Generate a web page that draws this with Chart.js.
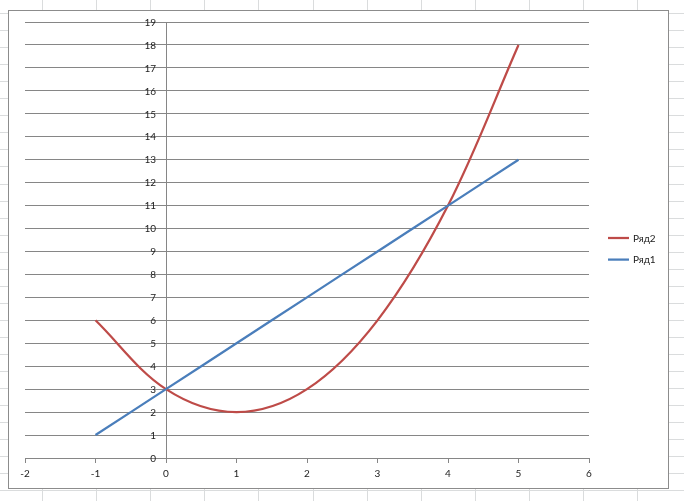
<!DOCTYPE html>
<html>
<head>
<meta charset="utf-8">
<script src="https://cdn.jsdelivr.net/npm/chart.js@4"></script>
<style>
  html, body { margin: 0; padding: 0; background: #fff; }
  canvas { display: block; }
</style>
</head>
<body>
<canvas id="chart" width="684" height="501"></canvas>
<script>
// values
const xValues = [-1, 0, 1, 2, 3, 4, 5];
const ryad1 = [1, 3, 5, 7, 9, 11, 13];
const ryad2 = [6, 3, 2, 3, 6, 11, 18];
const seriesNames = ['Ряд1', 'Ряд2'];
const xRange = [-2, 6];
const yRange = [0, 19];

const colors = { ryad1: '#4a7ebb', ryad2: '#be4b48', grid: '#868686', cells: '#dadcdd', text: '#222' };
const FONT = 'Lato, "Liberation Sans", sans-serif';

const toPoints = ys => xValues.map((x, i) => ({ x, y: ys[i] }));

// spreadsheet cells behind the chart object + white chart frame
const sheetBackground = {
  id: 'sheetBackground',
  beforeDraw(chart) {
    const ctx = chart.ctx;
    ctx.save();
    ctx.fillStyle = '#fff';
    ctx.fillRect(0, 0, chart.width, chart.height);
    ctx.strokeStyle = colors.cells;
    ctx.lineWidth = 1;
    ctx.beginPath();
    for (let x = 42 - 54.1; x < chart.width; x += 54.1) {
      const px = Math.round(x) + 0.5;
      ctx.moveTo(px, 0); ctx.lineTo(px, chart.height);
    }
    for (let y = 13.3 - 17.02; y < chart.height; y += 17.02) {
      const py = Math.round(y) + 0.5;
      ctx.moveTo(0, py); ctx.lineTo(chart.width, py);
    }
    ctx.stroke();
    ctx.fillStyle = '#fff';
    ctx.fillRect(8.5, 10.5, 660, 478);
    ctx.strokeStyle = '#8c8c8c';
    ctx.strokeRect(8.5, 10.5, 660, 478);
    ctx.restore();
  }
};

// y labels sit left of the axis at x=0; Chart.js ignores padding there, so draw them here
const yAxisLabels = {
  id: 'yAxisLabels',
  afterDraw(chart) {
    const { ctx, scales: { x, y } } = chart;
    const axisX = x.getPixelForValue(0);
    ctx.save();
    ctx.font = '10px ' + FONT;
    ctx.fillStyle = colors.text;
    ctx.textAlign = 'right';
    ctx.textBaseline = 'middle';
    y.ticks.forEach(t => {
      ctx.fillText(String(t.value), axisX - 10, y.getPixelForValue(t.value) + 0.5);
    });
    ctx.restore();
  }
};

// Excel style legend on the right, last series first
const sideLegend = {
  id: 'sideLegend',
  afterDraw(chart) {
    const ctx = chart.ctx;
    const sets = chart.data.datasets.slice().reverse();
    ctx.save();
    ctx.font = '10px ' + FONT;
    ctx.textBaseline = 'middle';
    sets.forEach((ds, i) => {
      const y = 238 + i * 21.6;
      ctx.strokeStyle = ds.borderColor;
      ctx.lineWidth = 2.25;
      ctx.beginPath();
      ctx.moveTo(608, y); ctx.lineTo(629, y);
      ctx.stroke();
      ctx.fillStyle = colors.text;
      ctx.fillText(ds.label, 633, y + 0.5);
    });
    ctx.restore();
  }
};

new Chart(document.getElementById('chart'), {
  type: 'scatter',
  data: {
    datasets: [
      { label: seriesNames[0], data: toPoints(ryad1), borderColor: colors.ryad1, backgroundColor: colors.ryad1 },
      { label: seriesNames[1], data: toPoints(ryad2), borderColor: colors.ryad2, backgroundColor: colors.ryad2 }
    ]
  },
  options: {
    responsive: false,
    animation: false,
    showLine: true,
    layout: { padding: { left: 25, right: 95, top: 22, bottom: 43 } },
    elements: {
      point: { radius: 0, hoverRadius: 0 },
      line: { borderWidth: 2.25, tension: 0.35, fill: false }
    },
    plugins: {
      legend: { display: false },
      tooltip: { enabled: false }
    },
    scales: {
      x: {
        type: 'linear',
        position: { y: 0 },
        min: xRange[0], max: xRange[1],
        ticks: { stepSize: 1, autoSkip: false, color: colors.text, font: { family: FONT, size: 10 }, padding: 6 },
        grid: { drawOnChartArea: false, drawTicks: true, tickLength: 4, color: colors.grid },
        border: { display: true, color: colors.grid }
      },
      y: {
        type: 'linear',
        position: { x: 0 },
        min: yRange[0], max: yRange[1],
        ticks: { display: false, stepSize: 1, autoSkip: false },
        grid: { drawOnChartArea: true, drawTicks: false, color: colors.grid },
        border: { display: true, color: colors.grid }
      }
    }
  },
  plugins: [sheetBackground, yAxisLabels, sideLegend]
});
</script>
</body>
</html>
